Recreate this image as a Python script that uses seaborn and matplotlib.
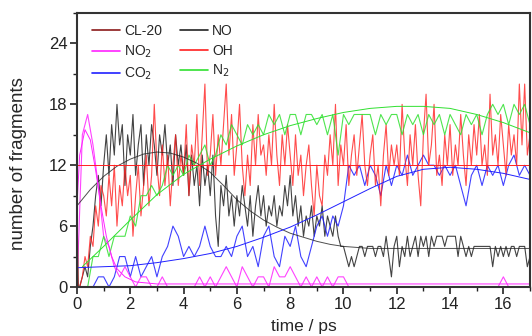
import numpy as np
import matplotlib
matplotlib.use("Agg")
import matplotlib.pyplot as plt
import seaborn as sns
from matplotlib.ticker import MultipleLocator

# -------------------------
# DATA
# -------------------------

# fast grid (0.1 ps) for the jagged series
t_fast = np.round(np.arange(171) * 0.1, 1)
# slow grid (0.2 ps) for the step-like series
t_slow = np.round(np.arange(86) * 0.2, 1)

oh = [0, 0, 1, 3, 2, 5, 4, 8, 6, 10,
      9, 7, 11, 8, 12, 6, 10, 8, 12, 9,
      11, 5, 9, 12, 7, 10, 13, 8, 11, 18,
      12, 9, 14, 10, 13, 8, 12, 15, 10, 13,
      11, 16, 9, 14, 12, 17, 10, 15, 20, 11,
      13, 17, 11, 15, 12, 16, 20, 13, 17, 11,
      14, 18, 12, 9, 13, 10, 16, 12, 17, 13,
      14, 11, 15, 12, 18, 13, 10, 15, 12, 16,
      13, 10, 15, 11, 13, 9, 12, 14, 10, 7,
      12, 9, 8, 13, 11, 15, 12, 18, 10, 14,
      12, 16, 10, 13, 15, 11, 14, 17, 12, 10,
      13, 15, 10, 12, 8, 13, 16, 11, 14, 12,
      14, 11, 18, 13, 10, 15, 12, 16, 11, 8,
      15, 19, 12, 14, 18, 11, 13, 10, 15, 12,
      16, 11, 14, 12, 17, 13, 10, 15, 12, 16,
      13, 17, 12, 14, 11, 19, 13, 15, 12, 17,
      14, 11, 16, 13, 15, 12, 20, 14, 20, 13, 15]

no = [0, 0, 1, 2, 1, 4, 6, 9, 11, 8,
      12, 15, 11, 16, 13, 18, 14, 16, 10, 15,
      13, 17, 11, 14, 16, 10, 15, 12, 16, 14,
      11, 15, 13, 16, 12, 14, 10, 15, 12, 14,
      11, 14, 9, 13, 10, 12, 8, 13, 10, 12,
      9, 13, 7, 4, 10, 8, 11, 7, 9, 6,
      9, 7, 10, 8, 6, 9, 5, 8, 10, 7,
      9, 6, 8, 7, 9, 6, 8, 7, 10, 8,
      11, 7, 9, 6, 8, 5, 7, 6, 8, 5,
      7, 6, 8, 5, 7, 6, 5, 7, 5, 4,
      4, 3, 2, 3, 2, 3, 4, 4, 3, 4,
      4, 4, 3, 4, 4, 3, 5, 3, 1, 4,
      5, 2, 4, 3, 5, 3, 4, 5, 3, 5,
      4, 5, 3, 5, 4, 5, 5, 5, 4, 5,
      5, 5, 5, 3, 5, 4, 3, 4, 3, 4,
      4, 4, 4, 4, 4, 4, 2, 4, 3, 4,
      3, 4, 3, 4, 4, 3, 4, 4, 4, 2, 3]

co2 = [0, 0, 0, 0, 1, 1, 0, 1, 3, 3,
       1, 3, 1, 2, 3, 1, 3, 4, 6, 5,
       3, 4, 3, 4, 6, 4, 3, 3, 4, 3,
       5, 6, 3, 4, 2, 5, 6, 3, 2, 5,
       4, 6, 3, 2, 4, 6, 7, 5, 7, 6,
       8, 12, 11, 12, 10, 12, 11, 9, 12, 10,
       12, 11, 13, 11, 12, 13, 12, 12, 11, 12,
       11, 12, 10, 8, 11, 12, 10, 12, 11, 12,
       10, 12, 13, 11, 12, 11]

n2 = [0, 0, 0, 3, 3, 5, 3, 5, 5, 5,
      7, 6, 9, 9, 10, 9, 10, 12, 11, 12,
      11, 13, 12, 13, 14, 12, 13, 15, 14, 16,
      15, 14, 16, 15, 16, 15, 17, 16, 17, 15,
      17, 17, 15, 17, 17, 16, 17, 15, 17, 13,
      17, 16, 17, 17, 17, 17, 15, 17, 16, 17,
      17, 15, 17, 16, 17, 15, 17, 16, 17, 15,
      17, 16, 15, 17, 16, 17, 15, 17, 18, 17,
      18, 16, 18, 17, 18, 16]

no2 = [0, 15, 17, 14, 10, 5, 4, 2, 1, 2,
       1, 0, 1, 1, 0, 0, 1, 0, 0, 0,
       0, 0, 0, 1, 0, 1, 0, 1, 2, 1,
       0, 2, 1, 0, 1, 1, 0, 2, 1, 1,
       2, 1, 0, 1, 0, 1, 0, 1, 0, 1,
       1, 0, 0, 0, 0, 0, 0, 0, 0, 0,
       0, 0, 0, 0, 0, 0, 0, 0, 0, 0,
       0, 0, 0, 0, 0, 0, 0, 0, 0, 0,
       1, 0, 0, 0, 0, 0]

cl20_t = [0, 0.05, 17]
cl20 = [8, 0, 0]

# smooth fitted curves
no_fit_t = [0, 0.5, 1, 1.5, 2, 2.5, 3, 3.5, 4, 4.5, 5, 5.5, 6, 6.5, 7,
            7.5, 8, 8.5, 9, 9.5, 10, 10.5, 11, 12, 13, 14, 15, 16, 17]
no_fit = [8.0, 9.6, 10.9, 11.9, 12.6, 13.1, 13.3, 13.2, 12.8, 12.2, 11.3,
          10.0, 8.6, 7.5, 6.6, 5.9, 5.3, 4.9, 4.5, 4.2, 4.0, 3.9, 3.8,
          3.8, 3.8, 3.8, 3.8, 3.8, 3.8]
co2_fit_t = [0, 1, 2, 3, 4, 5, 6, 7, 8, 9, 10, 11, 12, 13, 14, 15, 16, 17]
co2_fit = [1.9, 2.0, 2.1, 2.4, 2.8, 3.3, 4.0, 4.9, 5.9, 7.1, 8.4, 9.7,
           10.9, 11.6, 11.8, 11.6, 11.2, 10.6]
n2_fit_t = [0.2, 1, 2, 3, 4, 5, 6, 7, 8, 9, 10, 11, 12, 13, 14, 15, 16, 17]
n2_fit = [2.0, 4.0, 6.6, 9.1, 11.1, 12.6, 13.9, 15.0, 15.9, 16.6, 17.2,
          17.6, 17.8, 17.8, 17.6, 17.0, 16.2, 15.2]
no2_fit_t = [0, 0.1, 0.3, 0.5, 0.7, 0.9, 1.1, 1.3, 1.5, 1.8, 2.2, 3.0, 17]
no2_fit = [8.0, 13.0, 15.5, 14.5, 11.5, 8.0, 5.0, 3.0, 1.8, 1.0, 0.5, 0.3, 0.3]
oh_fit_t = [0, 17]
oh_fit = [12, 12]

# -------------------------
# STYLE
# -------------------------

sns.set_style("ticks")
plt.rcParams['font.family'] = ['Liberation Sans', 'DejaVu Sans']

c_cl20 = "#8b1a1a"
c_no2 = "#ff22ff"
c_co2 = "#2020ff"
c_no = "#222222"
c_oh = "#ff2020"
c_n2 = "#30e030"

fig = plt.figure(figsize=(5.32, 3.36), dpi=100)
ax = fig.add_axes([77 / 532, 1 - 287 / 336, 453 / 532, 274 / 336])

lw = 0.8
sns.lineplot(x=t_fast, y=no, ax=ax, color=c_no, lw=lw, alpha=0.85)
sns.lineplot(x=t_slow, y=co2, ax=ax, color=c_co2, lw=lw, alpha=0.85)
sns.lineplot(x=t_slow, y=no2, ax=ax, color=c_no2, lw=lw, alpha=0.85)
sns.lineplot(x=t_fast, y=oh, ax=ax, color=c_oh, lw=lw, alpha=0.8)
sns.lineplot(x=t_slow, y=n2, ax=ax, color=c_n2, lw=lw, alpha=0.85)
sns.lineplot(x=cl20_t, y=cl20, ax=ax, color=c_cl20, lw=lw)

# fits
sns.lineplot(x=no_fit_t, y=no_fit, ax=ax, color=c_no, lw=0.7, alpha=0.8)
sns.lineplot(x=co2_fit_t, y=co2_fit, ax=ax, color=c_co2, lw=0.7)
sns.lineplot(x=n2_fit_t, y=n2_fit, ax=ax, color=c_n2, lw=0.7)
sns.lineplot(x=no2_fit_t, y=no2_fit, ax=ax, color=c_no2, lw=0.7)
sns.lineplot(x=oh_fit_t, y=oh_fit, ax=ax, color=c_oh, lw=0.7)

# legend handles (column-wise order)
names = ["CL-20", "NO$_2$", "CO$_2$", "NO", "OH", "N$_2$"]
cols = [c_cl20, c_no2, c_co2, c_no, c_oh, c_n2]
handles = [plt.Line2D([], [], color=c, lw=1.2) for c in cols]
ax.legend(handles, names, ncol=2, frameon=False, loc="upper left",
          bbox_to_anchor=(0.033, 0.96), borderpad=0, borderaxespad=0,
          fontsize=10, handlelength=2.0, handletextpad=0.3,
          columnspacing=1.3, labelspacing=0.4)

ax.set_xlim(0, 17)
ax.set_ylim(0, 27)
ax.xaxis.set_major_locator(MultipleLocator(2))
ax.xaxis.set_minor_locator(MultipleLocator(1))
ax.yaxis.set_major_locator(MultipleLocator(6))
ax.yaxis.set_minor_locator(MultipleLocator(3))
ax.tick_params(which="major", direction="out", length=5, width=1.2,
               labelsize=12, colors="#222222", pad=2)
ax.tick_params(which="minor", direction="out", length=3, width=1.0,
               colors="#222222")
for s in ax.spines.values():
    s.set_visible(True)
    s.set_linewidth(1.5)
    s.set_color("#333333")

ax.set_xlabel("time / ps", fontsize=12.5, labelpad=5)
ax.set_ylabel("number of fragments", fontsize=13.5)
ax.yaxis.set_label_coords(-0.11, 0.45)

fig.savefig("out.png", dpi=100)
